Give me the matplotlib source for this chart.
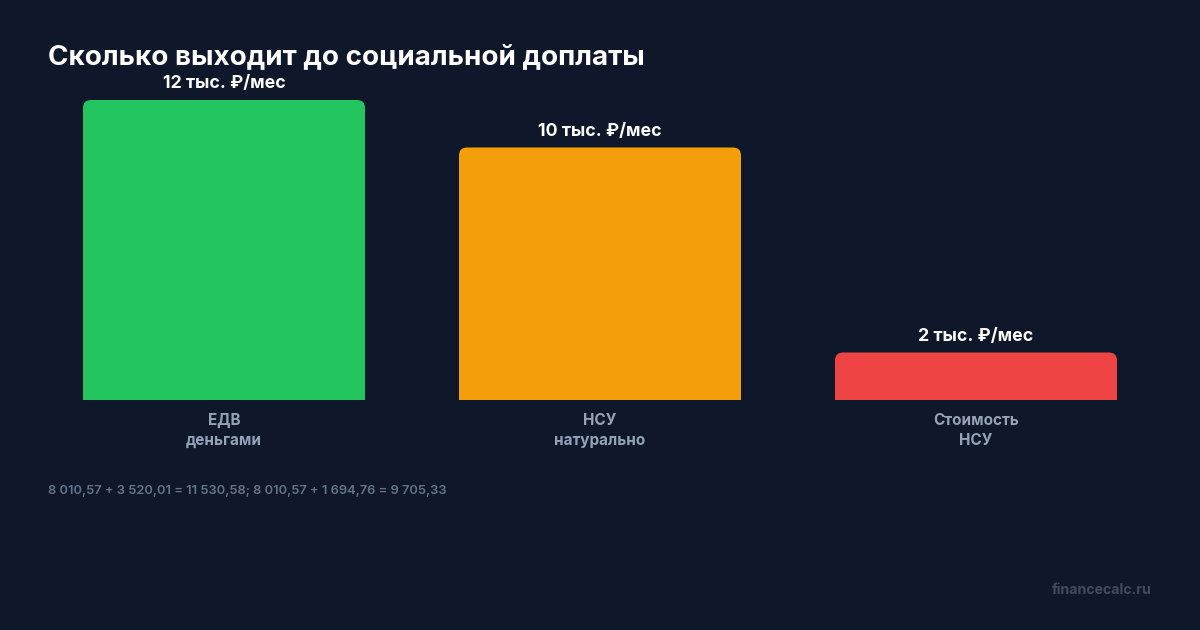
import matplotlib.pyplot as plt
from matplotlib.path import Path
from matplotlib.patches import PathPatch

plt.rcParams['font.family'] = ['Inter', 'DejaVu Sans']

categories = ['ЕДВ\nденьгами', 'НСУ\nнатурально', 'Стоимость\nНСУ']
values = [11530.58, 9705.33, 1825.25]
value_labels = ['12 тыс. ₽/мес', '10 тыс. ₽/мес', '2 тыс. ₽/мес']
colors = ['#22c55e', '#f59e0b', '#ef4444']

bg = '#0f172a'
W, H = 1200, 630

fig = plt.figure(figsize=(12, 6.3), dpi=100, facecolor=bg)
ax = fig.add_axes([36 / W, (H - 400) / H, 1128 / W, 300 / H])
ax.set_facecolor(bg)
ax.set_xlim(-0.5, 2.5)
ax.set_ylim(0, max(values))

# rounded top corners, radius in pixels converted to data units
r_px = 8
rx = r_px / (1128 / 3)
ry = r_px * max(values) / 300
width = 0.75


def top_rounded_bar(x, h):
    x0, x1 = x - width / 2, x + width / 2
    verts = [(x0, 0), (x0, h - ry), (x0, h), (x0 + rx, h),
             (x1 - rx, h), (x1, h), (x1, h - ry), (x1, 0), (x0, 0)]
    codes = [Path.MOVETO, Path.LINETO, Path.CURVE3, Path.CURVE3,
             Path.LINETO, Path.CURVE3, Path.CURVE3, Path.LINETO, Path.CLOSEPOLY]
    return Path(verts, codes)


for i, (v, c, lab) in enumerate(zip(values, colors, value_labels)):
    ax.add_patch(PathPatch(top_rounded_bar(i, v), facecolor=c, edgecolor='none'))
    ax.annotate(lab, (i, v), xytext=(0, 5.5), textcoords='offset points',
                ha='center', va='bottom', color='white', fontsize=12.8,
                fontweight='bold', annotation_clip=False)

ax.set_xticks(range(len(categories)))
ax.set_xticklabels(categories, color='#94a3b8', fontsize=11,
                   fontweight='bold', linespacing=1.4)
ax.tick_params(axis='x', length=0, pad=9.5)
ax.set_yticks([])
for s in ax.spines.values():
    s.set_visible(False)

fig.text(48 / W, 1 - 57 / H, 'Сколько выходит до социальной доплаты',
         color='white', fontsize=20, fontweight='bold', va='center', ha='left')
fig.text(48 / W, 1 - 491 / H,
         '8 010,57 + 3 520,01 = 11 530,58; 8 010,57 + 1 694,76 = 9 705,33',
         color='#64748b', fontsize=9.3, fontweight='semibold', va='center', ha='left')
fig.text(1152 / W, 1 - 590 / H, 'financecalc.ru', color='#3f4b5f',
         fontsize=10.2, fontweight='bold', va='center', ha='right')

fig.savefig('out.png', dpi=100, facecolor=bg)
